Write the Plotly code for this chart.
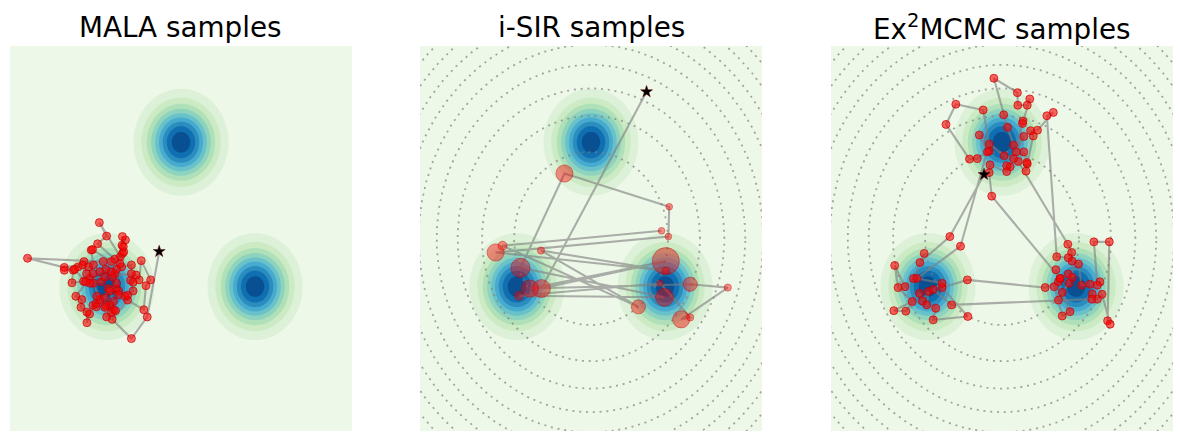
import numpy as np
import plotly.graph_objects as go

# ---------------- data ----------------
# target: mixture of three isotropic Gaussians
MODE_X = [0.0, -1.732, 1.732]
MODE_Y = [2.0, -1.0, -1.0]
MODE_STD = 0.52
LEVEL_START, LEVEL_END, LEVEL_STEP = 0.02, 0.18, 0.02

# proposal contour radii (dotted circles, panels 2 and 3)
PROPOSAL_RADII = [1.80, 2.55, 3.12, 3.61, 4.03, 4.42, 4.77, 5.10, 5.41, 5.70]

# MALA chain
MALA_START = (-0.51, -0.27)
MALA_X = [-0.79, -1.16, -1.61, -1.25, -0.87, -0.82, -0.71, -0.93, -0.98, -1.05,
          -1.55, -1.38, -1.30, -1.37, -1.42, -1.91, -1.74, -1.95, -1.55, -2.73,
          -3.59, -1.82, -2.27, -2.41, -2.73, -2.52, -2.55, -2.28, -1.86, -1.78,
          -2.14, -2.46, -2.32, -2.34, -2.20, -2.20, -2.14, -2.06, -1.98, -1.98,
          -1.90, -1.97, -1.78, -1.70, -1.52, -1.46, -1.46, -1.31, -1.25, -1.12,
          -1.18, -1.12, -1.16, -1.16, -1.39, -1.43, -1.51, -1.60, -1.64, -1.76,
          -1.90, -2.06, -2.21, -2.30, -2.16, -2.05, -2.10, -2.07, -1.63, -1.37,
          -1.34, -1.35, -1.51, -1.66, -1.58, -1.66, -1.76, -1.78, -1.58, -1.63,
          -1.53, -1.74, -2.05, -2.13, -2.23, -2.49]
MALA_Y = [-1.63, -2.08, -1.68, -1.28, -1.48, -0.98, -0.86, -0.46, -0.86, -0.76,
          -0.74, -0.14, -0.03, 0.04, -0.38, 0.33, 0.05, -0.11, -0.43, -0.60,
          -0.41, -0.48, -0.48, -0.59, -0.66, -0.66, -0.92, -0.89, -0.90, -0.80,
          -0.83, -1.20, -1.27, -1.43, -1.53, -1.75, -1.57, -1.39, -1.42, -1.35,
          -1.27, -1.20, -1.23, -1.04, -1.05, -1.09, -1.17, -1.20, -1.18, -1.09,
          -0.87, -0.91, -0.73, -0.55, -0.59, -0.52, -0.64, -0.80, -0.69, -0.64,
          -0.69, -0.73, -0.73, -0.55, -0.59, -0.55, -0.24, -0.23, -0.48, -0.31,
          -0.28, -0.17, -0.93, -1.09, -1.31, -1.39, -1.39, -1.43, -1.48, -1.54,
          -1.50, -1.63, -0.93, -0.93, -0.90, -0.64]

# i-SIR chain (with importance weights)
ISIR_START = (1.30, 3.05)
ISIR_X = [-1.16, 1.75, -1.43, 2.32, 3.20, 2.11, 2.32, 1.62, -1.69, 1.72,
          -1.65, -0.62, 1.83, 1.81, -2.23, 1.75, -1.17, 1.11, -2.07, 1.65]
ISIR_Y = [-1.04, -0.47, -1.04, -0.95, -1.02, -1.68, -1.64, -0.93, -1.19, -1.22,
          -0.61, 1.35, 0.66, 0.04, -0.29, -0.67, -0.25, -1.42, -0.15, 0.16]
ISIR_W = [0.44, 1.00, 0.40, 0.27, 0.07, 0.40, 0.07, 0.05, 0.11, 0.44,
          0.50, 0.40, 0.06, 0.06, 0.40, 0.07, 0.07, 0.27, 0.11, 0.06]

# Ex2MCMC chain
EX2_START = (-0.42, 1.33)
EX2_X = [-1.22, -1.92, -1.82, -2.07, -2.27, -2.51, -2.43, -2.10, -2.53, -2.25,
         -1.93, -1.86, -1.72, -1.76, -1.55, -1.61, -0.80, -1.40, -0.81, 1.01,
         1.32, 1.26, 1.36, 1.22, 1.32, 1.41, 1.59, 1.41, 1.57, 1.55,
         1.65, 1.64, 1.63, 1.54, 0.38, 0.51, 0.59, 0.58, 0.56, 0.73,
         0.67, 0.83, 1.20, 1.05, 1.28, 1.55, 1.79, 1.86, 2.06, 2.29,
         2.23, 2.15, 2.51, 2.47, 2.53, 2.34, 2.23, 2.11, 2.10, -1.18,
         -1.61, -1.40, -1.99, -0.97, -0.30, -0.44, -1.08, -1.31, -0.76, -0.58,
         -0.30, -0.34, -0.53, 0.05, 0.27, 0.33, 0.49, 0.48, 0.65, 0.59,
         0.37, 0.36, -0.19, 0.04, 0.13, 0.27, 0.51, 0.19, 0.11, 0.11,
         -0.28, -0.30, -0.24, 1.36]
EX2_Y = [0.04, -0.50, -0.31, -0.83, -1.00, -0.56, -1.02, -1.31, -1.50, -1.51,
         -1.14, -1.30, -1.10, -1.38, -1.45, -1.69, -1.62, -1.02, -0.86, -1.02,
         -0.90, -0.65, -0.83, -1.00, -1.28, -1.61, -1.52, -1.12, -0.93, -0.74,
         -0.81, -0.47, -0.29, -0.12, 1.60, 1.80, 1.55, 1.58, 1.40, 2.13,
         2.24, 2.25, 2.62, 2.55, -0.38, -0.40, -0.53, -0.97, -0.95, -0.90,
         -0.97, -0.07, -0.07, -1.71, -1.78, -1.16, -1.26, -1.15, -1.26, -1.38,
         -1.06, -0.93, -0.83, -0.16, 1.96, 2.67, 2.79, 2.37, 1.65, 1.66,
         1.82, 1.80, 2.15, 1.72, 1.66, 1.80, 2.44, 2.39, 2.90, 2.77,
         2.77, 3.03, 3.33, 2.57, 2.31, 1.94, 2.12, 1.49, 1.51, 1.39,
         1.53, 1.37, 0.88, -0.83]

TITLES = ["MALA samples", "i-SIR samples", "Ex<sup>2</sup>MCMC samples"]

# ---------------- styling ----------------
GNBU = [(247, 252, 240), (224, 243, 219), (204, 235, 197), (168, 221, 181),
        (123, 204, 196), (78, 179, 211), (43, 140, 190), (8, 104, 172), (8, 64, 129)]


def gnbu(t):
    p = t * (len(GNBU) - 1)
    i = min(int(np.floor(p)), len(GNBU) - 2)
    f = p - i
    c = [GNBU[i][k] + (GNBU[i + 1][k] - GNBU[i][k]) * f for k in range(3)]
    return "rgb(%d,%d,%d)" % tuple(round(v) for v in c)


n_levels = int(round((LEVEL_END - LEVEL_START) / LEVEL_STEP)) + 1
n_bands = n_levels + 1
colorscale = [[k / (n_bands - 1), gnbu((k + 0.5) / n_bands)] for k in range(n_bands)]

grid = np.linspace(-4, 4, 241)
GX, GY = np.meshgrid(grid, grid)
Z = np.zeros_like(GX)
for mx, my in zip(MODE_X, MODE_Y):
    Z += np.exp(-((GX - mx) ** 2 + (GY - my) ** 2) / (2 * MODE_STD ** 2)) / (2 * np.pi * MODE_STD ** 2)
Z /= len(MODE_X)

theta = np.linspace(0, 2 * np.pi, 400)
cx, cy = [], []
for r in PROPOSAL_RADII:
    cx += list(r * np.cos(theta)) + [None]
    cy += list(r * np.sin(theta)) + [None]

LINE_COLOR = "rgba(128,128,128,0.62)"
PT_FILL = "rgba(255,0,0,0.6)"
PT_EDGE = "rgba(200,0,0,0.7)"

# page layout (the page body adds an 8 px margin around the figure)
W, H, OFF = 1166, 425, 8
PANEL_LEFT = [10, 420, 831]
PANEL_W = 342
PANEL_TOP, PANEL_BOTTOM = 46, 431
TITLE_MID = 27.5

fig = go.Figure()

panels = [
    (MALA_START, MALA_X, MALA_Y, None, False),
    (ISIR_START, ISIR_X, ISIR_Y, ISIR_W, True),
    (EX2_START, EX2_X, EX2_Y, None, True),
]
ydom = (1 - (PANEL_BOTTOM - OFF) / H, 1 - (PANEL_TOP - OFF) / H)

for i, (start, xs, ys, w, circles) in enumerate(panels):
    xa = "x" if i == 0 else "x%d" % (i + 1)
    ya = "y" if i == 0 else "y%d" % (i + 1)
    xdom = ((PANEL_LEFT[i] - OFF) / W, (PANEL_LEFT[i] + PANEL_W - OFF) / W)
    fig.add_trace(go.Contour(
        x=grid, y=grid, z=Z, xaxis=xa, yaxis=ya,
        autocontour=False,
        contours=dict(start=LEVEL_START, end=LEVEL_END, size=LEVEL_STEP, coloring="fill",
                      showlines=False),
        line=dict(width=0), colorscale=colorscale, showscale=False, hoverinfo="skip"))
    if circles:
        fig.add_trace(go.Scatter(x=cx, y=cy, mode="lines", xaxis=xa, yaxis=ya,
                                 line=dict(color="rgba(128,128,128,0.7)", width=1.8, dash="2px,4.8px"),
                                 hoverinfo="skip", showlegend=False))
    fig.add_trace(go.Scatter(x=[start[0]] + xs, y=[start[1]] + ys, mode="lines",
                             xaxis=xa, yaxis=ya, line=dict(color=LINE_COLOR, width=2.1),
                             hoverinfo="skip", showlegend=False))
    if w is None:
        sizes = 8
    else:
        sizes = [27 * np.sqrt(v) for v in w]
    fig.add_trace(go.Scatter(x=xs, y=ys, mode="markers", xaxis=xa, yaxis=ya,
                             marker=dict(color=PT_FILL, size=sizes,
                                         line=dict(color=PT_EDGE, width=1)),
                             hoverinfo="skip", showlegend=False))
    fig.add_trace(go.Scatter(x=[start[0]], y=[start[1]], mode="markers", xaxis=xa, yaxis=ya,
                             marker=dict(symbol="star", color="black", size=9,
                                         line=dict(color="rgba(90,0,0,1)", width=0.5)),
                             hoverinfo="skip", showlegend=False))
    xkey = "xaxis" if i == 0 else "xaxis%d" % (i + 1)
    ykey = "yaxis" if i == 0 else "yaxis%d" % (i + 1)
    fig.layout[xkey] = dict(domain=list(xdom), range=[-4, 4], visible=False,
                            anchor=ya, fixedrange=True)
    fig.layout[ykey] = dict(domain=list(ydom), range=[-4, 4], visible=False,
                            anchor=xa, fixedrange=True)
    fig.add_annotation(text=TITLES[i], xref="paper", yref="paper",
                       x=(xdom[0] + xdom[1]) / 2, y=1 - (TITLE_MID - OFF) / H,
                       xanchor="center", yanchor="middle", showarrow=False,
                       font=dict(family="DejaVu Sans", size=27.8, color="black"))

fig.update_layout(width=W, height=H, margin=dict(l=0, r=0, t=0, b=0),
                  paper_bgcolor="white", plot_bgcolor="white", showlegend=False)

fig.write_html("out.html")
